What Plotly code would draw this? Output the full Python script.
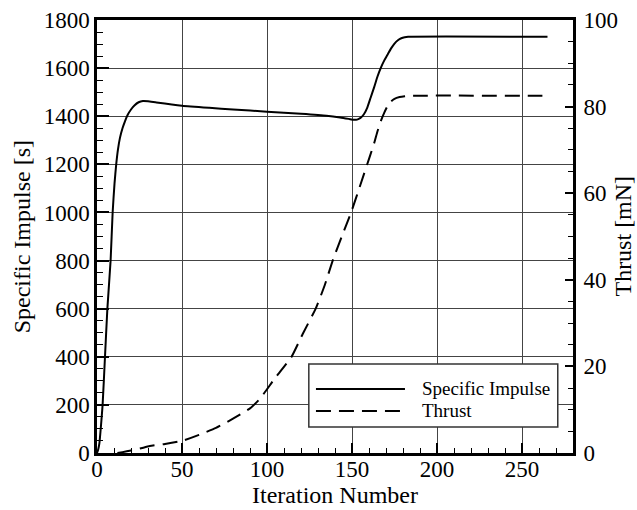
import plotly.graph_objects as go

# Specific impulse [s] vs iteration
isp_iter = [0, 0.7, 1.4, 2.3, 3.3, 4.7, 6.1, 8.0, 9.2, 10.3, 11.3, 12.3, 13.5, 15, 16.5, 18, 20, 22, 24.5, 27, 30, 35,
            50, 66, 80, 100, 120, 135, 143, 148, 151, 153, 155, 157, 159, 161, 163, 165, 167, 169, 171, 173, 175, 177,
            179, 181, 183, 265]
isp_val = [0, 15, 40, 110, 200, 400, 600, 800, 1000, 1120, 1200, 1260, 1310, 1350, 1380, 1405, 1428, 1445, 1458, 1463,
           1462, 1457, 1444, 1435, 1428, 1419, 1410, 1402, 1395, 1389, 1385, 1386, 1393, 1408, 1436, 1478, 1520, 1565,
           1602, 1632, 1657, 1682, 1702, 1716, 1724, 1728, 1730, 1730]

# Thrust [mN] vs iteration
thr_iter = [12, 15, 20, 25, 31, 40, 50, 60, 70, 78, 90, 96, 104, 114.4, 121, 128.7, 134, 138.8, 144, 149.6, 155, 160.4,
            163, 165, 167, 169, 171, 173, 175, 178, 181, 184, 262]
thr_val = [0, 0.2, 0.6, 1.0, 1.6, 2.1, 2.8, 4.2, 5.8, 7.5, 10.3, 12.6, 16.9, 22.2, 27.5, 33.4, 38.8, 44.6, 50.0, 55.7,
           62.0, 68.4, 71.5, 74.3, 76.7, 78.6, 80.2, 81.2, 81.8, 82.2, 82.4, 82.5, 82.5]

series_names = ["Specific Impulse", "Thrust"]
x_title = "Iteration Number"
y_title = "Specific Impulse [s]"
y2_title = "Thrust [mN]"

FONT = "Liberation Serif, Times New Roman, serif"
GRID = "#444444"

fig = go.Figure()
fig.add_trace(go.Scatter(x=isp_iter, y=isp_val, mode="lines", name=series_names[0],
                         line=dict(color="black", width=2, shape="spline", smoothing=0.5), yaxis="y"))
fig.add_trace(go.Scatter(x=thr_iter, y=thr_val, mode="lines", name=series_names[1],
                         line=dict(color="black", width=2, dash="15px,8px", shape="spline", smoothing=0.5),
                         yaxis="y2"))

fig.update_layout(
    width=637, height=510,
    margin=dict(l=97, r=64, t=20, b=57),
    paper_bgcolor="white", plot_bgcolor="white",
    font=dict(family=FONT, size=23, color="black"),
    showlegend=False,
    xaxis=dict(range=[0, 280], dtick=50, tick0=0, showgrid=True, gridcolor=GRID, gridwidth=1.2,
               zeroline=False, showline=True, linecolor="black", linewidth=2.5, mirror=True,
               ticks="inside", ticklen=10, tickwidth=1.5, tickcolor="black", ticklabelstandoff=-6,
               tickfont=dict(family=FONT, size=23),
               minor=dict(dtick=10, ticks="inside", ticklen=5, tickwidth=1.2, tickcolor="black", showgrid=False),
               title=dict(text=x_title, font=dict(family=FONT, size=24), standoff=0),
               automargin=False),
    yaxis=dict(range=[0, 1800], dtick=200, showgrid=True, gridcolor=GRID, gridwidth=1.2,
               zeroline=False, showline=True, linecolor="black", linewidth=2.5,
               ticks="inside", ticklen=12, tickwidth=1.5, tickcolor="black",
               tickfont=dict(family=FONT, size=23),
               minor=dict(dtick=50, ticks="inside", ticklen=6, tickwidth=1.2, tickcolor="black", showgrid=False),
               automargin=False),
    yaxis2=dict(range=[0, 100], dtick=20, overlaying="y", side="right", showgrid=False,
                zeroline=False, showline=True, linecolor="black", linewidth=3,
                ticks="inside", ticklen=8, tickwidth=1.5, tickcolor="black", ticklabelstandoff=3,
                tickfont=dict(family=FONT, size=23),
                minor=dict(dtick=5, ticks="inside", ticklen=5, tickwidth=1.2, tickcolor="black", showgrid=False),
                automargin=False),
)

# Axis titles for the vertical axes
fig.add_annotation(text=y_title, xref="paper", yref="paper", x=-0.158, y=0.5, xanchor="center", yanchor="middle",
                   textangle=-90, showarrow=False, font=dict(family=FONT, size=24))
fig.add_annotation(text=y2_title, xref="paper", yref="paper", x=1.103, y=0.5, xanchor="center", yanchor="middle",
                   textangle=-90, showarrow=False, font=dict(family=FONT, size=24))

# Legend box drawn in plot-area paper coordinates
fig.add_shape(type="rect", xref="paper", yref="paper", x0=0.445, x1=0.968, y0=0.060, y1=0.2055,
              line=dict(color="#333333", width=1.5), fillcolor="white", layer="above")
fig.add_shape(type="line", xref="paper", yref="paper", x0=0.460, x1=0.647, y0=0.148, y1=0.148,
              line=dict(color="black", width=2), layer="above")
fig.add_shape(type="line", xref="paper", yref="paper", x0=0.460, x1=0.640, y0=0.097, y1=0.097,
              line=dict(color="black", width=2, dash="15px,8px"), layer="above")
fig.add_annotation(text=series_names[0], xref="paper", yref="paper", x=0.679, y=0.148, xanchor="left",
                   yanchor="middle", showarrow=False, font=dict(family=FONT, size=19))
fig.add_annotation(text=series_names[1], xref="paper", yref="paper", x=0.679, y=0.097, xanchor="left",
                   yanchor="middle", showarrow=False, font=dict(family=FONT, size=19))

fig.write_html("out.html", config={"displayModeBar": False},
               post_script="document.body.style.margin='0px';document.body.style.overflow='hidden';")
